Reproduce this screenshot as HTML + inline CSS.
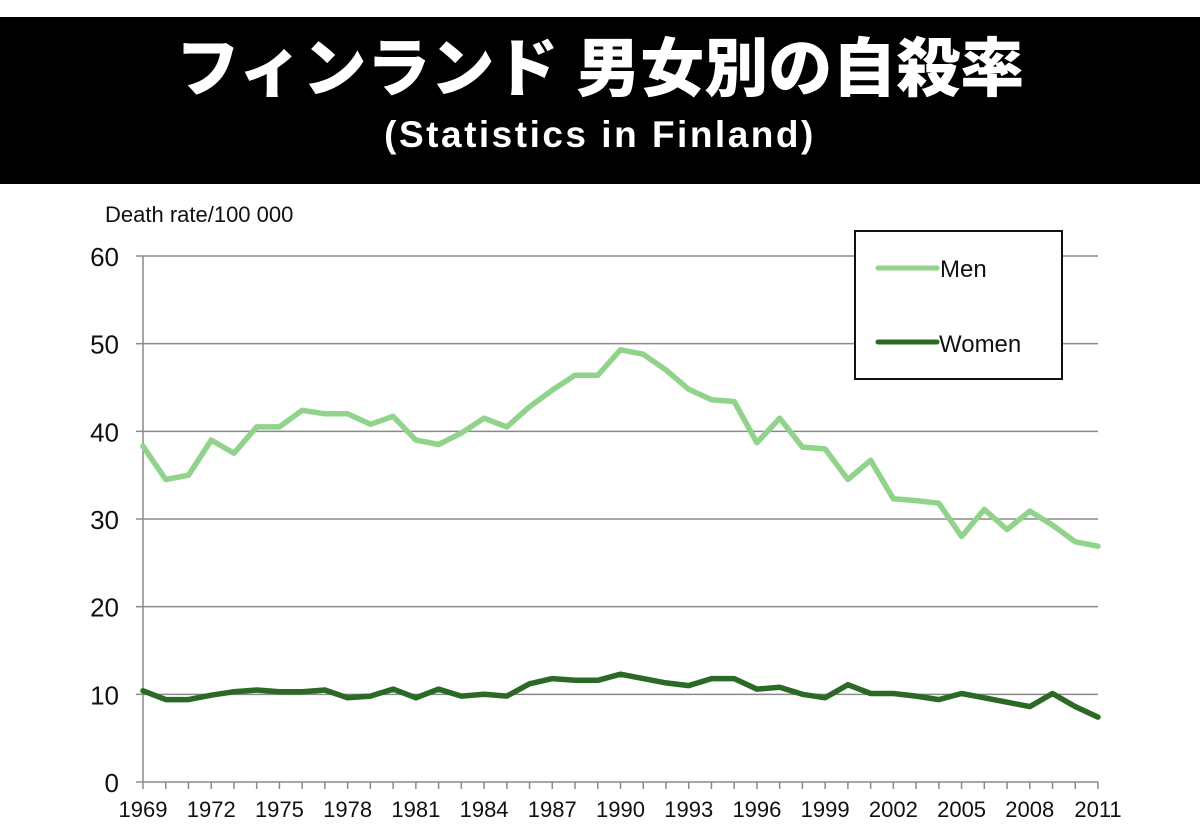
<!DOCTYPE html>
<html><head><meta charset="utf-8"><style>
body{margin:0;background:#fff;width:1200px;height:840px;overflow:hidden}
#ban{position:absolute;left:0;top:17px;width:1200px;height:167px;background:#000;color:#fff;text-align:center;font-family:"Liberation Sans","Noto Sans CJK JP",sans-serif;font-weight:bold}
#t1{position:absolute;top:12px;left:0;width:1200px;font-size:64px;line-height:80px;font-weight:900}
#t2{position:absolute;top:93px;left:0;width:1200px;font-size:37px;line-height:50px;letter-spacing:2.5px}
svg{position:absolute;left:0;top:0}
</style></head><body>
<div id="ban"><div id="t1">フィンランド 男女別の自殺率</div><div id="t2">(Statistics in Finland)</div></div>
<svg width="1200" height="840" id="s" font-family="Liberation Sans, sans-serif"></svg>
<script>
var men=[38.3,34.5,35,39,37.5,40.5,40.5,42.4,42,42,40.8,41.7,39,38.5,39.8,41.5,40.5,42.8,44.7,46.4,46.4,49.3,48.8,47,44.8,43.6,43.4,38.7,41.5,38.2,38,34.5,36.7,32.3,32.1,31.8,28,31.1,28.8,30.9,29.3,27.4,26.9];
var wom=[10.4,9.4,9.4,9.9,10.3,10.5,10.3,10.3,10.5,9.6,9.8,10.6,9.6,10.6,9.8,10,9.8,11.2,11.8,11.6,11.6,12.3,11.8,11.3,11,11.8,11.8,10.6,10.8,10,9.6,11.1,10.1,10.1,9.8,9.4,10.1,9.6,9.1,8.6,10.1,8.6,7.4];
var x0=143,x1=1098,y0=782,ys=(782-256)/60,dx=(x1-x0)/42,h='';
for(var v=0;v<=60;v+=10){var y=y0-v*ys;if(v>0)h+='<line x1="'+x0+'" x2="'+x1+'" y1="'+y+'" y2="'+y+'" stroke="#8a8a8a" stroke-width="1.5"/>';h+='<line x1="136" x2="'+x0+'" y1="'+y+'" y2="'+y+'" stroke="#8a8a8a" stroke-width="1.5"/><text x="119" y="'+(y+10)+'" font-size="26" text-anchor="end" fill="#111">'+v+'</text>';}
h+='<line x1="'+x0+'" x2="'+x0+'" y1="256" y2="'+y0+'" stroke="#8a8a8a" stroke-width="1.5"/><line x1="'+x0+'" x2="'+x1+'" y1="'+y0+'" y2="'+y0+'" stroke="#8a8a8a" stroke-width="1.5"/>';
for(var i=0;i<=42;i++){var x=x0+i*dx;h+='<line x1="'+x+'" x2="'+x+'" y1="'+y0+'" y2="'+(y0+7)+'" stroke="#8a8a8a" stroke-width="1.5"/>';if(i%3==0)h+='<text x="'+x+'" y="817" font-size="22" text-anchor="middle" fill="#111">'+(1969+i)+'</text>';}
function pl(d,c){var p=d.map(function(v,i){return (x0+i*dx).toFixed(1)+','+(y0-v*ys).toFixed(1)}).join(' ');return '<polyline points="'+p+'" fill="none" stroke="'+c+'" stroke-width="5.5" stroke-linejoin="round" stroke-linecap="round"/>';}
h+=pl(men,'#8fd48a')+pl(wom,'#2b6a24');
h+='<text x="105" y="222" font-size="22" fill="#111">Death rate/100  000</text>';
h+='<rect x="855" y="231" width="207" height="148" fill="#fff" stroke="#111" stroke-width="2"/>';
h+='<line x1="878" x2="937" y1="268" y2="268" stroke="#8fd48a" stroke-width="5" stroke-linecap="round"/><text x="940" y="277" font-size="24" fill="#111">Men</text>';
h+='<line x1="878" x2="937" y1="342" y2="342" stroke="#2b6a24" stroke-width="5" stroke-linecap="round"/><text x="939" y="352" font-size="24" fill="#111">Women</text>';
document.getElementById('s').innerHTML=h;
</script>
</body></html>
